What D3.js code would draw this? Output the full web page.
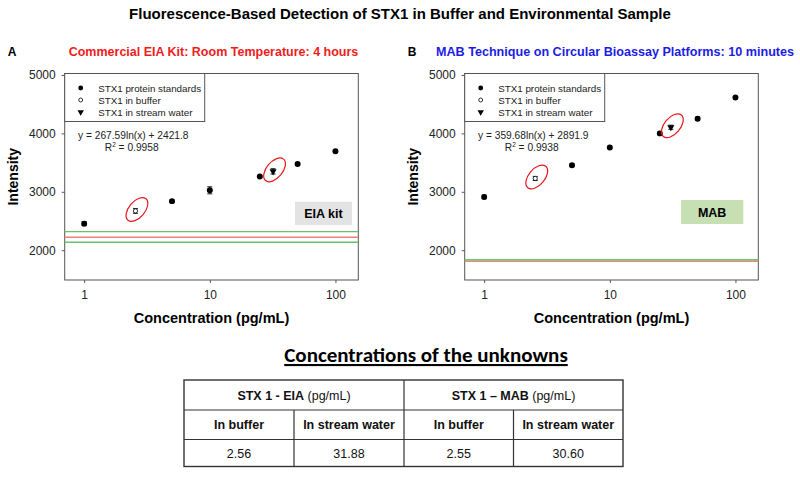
<!DOCTYPE html>
<html>
<head>
<meta charset="utf-8">
<script src="https://cdn.jsdelivr.net/npm/d3@7"></script>
<style>
  body { margin: 0; background: #fff; }
  svg text { font-family: "Liberation Sans", Arial, sans-serif; }
</style>
</head>
<body>
<svg id="chart" width="800" height="478"></svg>
<script>
// data
var concentrations = [1, 5, 10, 25, 50, 100];

var eiaStd    = [2455, 2840, 3025, 3260, 3475, 3695];
var eiaStdErr = [35, 20, 60, 15, 20, 15];
var eiaBuffer = {x: 2.56, y: 2672, err: 40};
var eiaStream = {x: 31.88, y: 3350, err: 45};
var eiaLines  = [2318, 2222, 2136];   // green, red, green
var eiaEq     = ["y = 267.59ln(x) + 2421.8", "0.9958"];

var mabStd    = [2912, 3455, 3758, 4000, 4252, 4615];
var mabStdErr = [30, 25, 20, 20, 25, 15];
var mabBuffer = {x: 2.55, y: 3228, err: 35};
var mabStream = {x: 30.60, y: 4105, err: 35};
var mabLines  = [1833, 1810, 1833];
var mabEq     = ["y = 359.68ln(x) + 2891.9", "0.9938"];

var yTicks = [2000, 3000, 4000, 5000];
var xTicks = [1, 10, 100];
var legendLabels = ["STX1 protein standards", "STX1 in buffer", "STX1 in stream water"];

var tableHead = [["STX 1 - EIA", " (pg/mL)"], ["STX 1 \u2013 MAB", " (pg/mL)"]];
var tableSub  = ["In buffer", "In stream water", "In buffer", "In stream water"];
var tableVals = ["2.56", "31.88", "2.55", "30.60"];

var svg = d3.select("#chart");

svg.append("text")
  .attr("x", 400).attr("y", 19)
  .attr("text-anchor", "middle")
  .style("font-weight", "bold").style("font-size", "15px")
  .text("Fluorescence-Based Detection of STX1 in Buffer and Environmental Sample");

function drawPanel(cfg){
  var g = svg.append("g").attr("transform", "translate(" + cfg.left + ",0)");
  var w = 293.6, top = 73.5, bottom = 280;

  var x = d3.scaleLog().domain([0.7, 152]).range([0, w]);
  var y = d3.scaleLinear().domain([1490, 5025]).range([bottom, top]);

  // letter + subtitle
  g.append("text").attr("x", cfg.letterX).attr("y", 56)
    .style("font-weight", "bold").style("font-size", "12px").text(cfg.letter);
  g.append("text").attr("x", cfg.titleX).attr("y", 56)
    .attr("text-anchor", "middle")
    .style("font-weight", "bold").style("font-size", cfg.titleSize)
    .style("fill", cfg.titleColor).text(cfg.title);

  var plot = g.append("g");

  plot.append("rect")
    .attr("x", 0).attr("y", top).attr("width", w).attr("height", bottom - top)
    .attr("fill", "none").attr("stroke", "#555").attr("stroke-width", 1);

  // axes
  var yAxis = plot.append("g")
    .call(d3.axisLeft(y).tickValues(yTicks).tickSize(3).tickPadding(6).tickFormat(d3.format("d")));
  yAxis.select(".domain").remove();
  yAxis.selectAll("text").style("font-size", "12px").style("fill", "#222");
  yAxis.selectAll("line").attr("stroke", "#555");

  var xAxis = plot.append("g").attr("transform", "translate(0," + bottom + ")")
    .call(d3.axisBottom(x).tickValues(xTicks).tickSize(3).tickPadding(7).tickFormat(d3.format("d")));
  xAxis.select(".domain").remove();
  xAxis.selectAll("text").style("font-size", "12px").style("fill", "#222");
  xAxis.selectAll("line").attr("stroke", "#555");

  g.append("text")
    .attr("transform", "translate(" + (-47) + "," + ((top + bottom) / 2) + ") rotate(-90)")
    .attr("text-anchor", "middle")
    .style("font-weight", "bold").style("font-size", "14px")
    .text("Intensity");
  g.append("text")
    .attr("x", w / 2).attr("y", 323)
    .attr("text-anchor", "middle")
    .style("font-weight", "bold").style("font-size", "14.5px")
    .text("Concentration (pg/mL)");

  // threshold lines
  plot.selectAll(".thr").data(cfg.lines).enter().append("line")
    .attr("x1", 0).attr("x2", w)
    .attr("y1", function(d){ return y(d); }).attr("y2", function(d){ return y(d); })
    .attr("stroke", function(d, i){ return i == 1 ? "#f08080" : "#6cc06c"; })
    .attr("stroke-width", 1.3);

  // label box
  plot.append("rect")
    .attr("x", cfg.box.x).attr("y", cfg.box.y).attr("width", cfg.box.w).attr("height", cfg.box.h)
    .attr("fill", cfg.box.fill);
  plot.append("text")
    .attr("x", cfg.box.x + cfg.box.w / 2).attr("y", cfg.box.y + cfg.box.h / 2 + 4.5)
    .attr("text-anchor", "middle")
    .style("font-weight", "bold").style("font-size", "12.5px")
    .text(cfg.box.label);

  // legend
  plot.append("rect")
    .attr("x", 0).attr("y", top).attr("width", 140).attr("height", 48)
    .attr("fill", "#fff").attr("stroke", "#555");
  var leg = plot.selectAll(".leg").data(legendLabels).enter().append("g")
    .attr("transform", function(d, i){ return "translate(16," + (88 + i * 12) + ")"; });
  leg.append("path")
    .attr("d", function(d, i){
      return i == 2 ? d3.symbol().type(d3.symbolTriangle).size(18)() : d3.symbol().type(d3.symbolCircle).size(i == 0 ? 18 : 12)();
    })
    .attr("transform", function(d, i){ return i == 2 ? "rotate(180)" : null; })
    .attr("fill", function(d, i){ return i == 1 ? "#fff" : "#000"; })
    .attr("stroke", "#000").attr("stroke-width", function(d, i){ return i == 1 ? 0.8 : 0; });
  leg.append("text")
    .attr("x", 17.5).attr("y", 3.5)
    .style("font-size", "9.8px").style("fill", "#222")
    .text(function(d){ return d; });

  // equation
  plot.append("text").attr("x", 68.6).attr("y", 138.5)
    .attr("text-anchor", "middle").style("font-size", "10.2px").style("fill", "#222")
    .text(cfg.eq[0]);
  var r2 = plot.append("text").attr("x", 67).attr("y", 150.5)
    .attr("text-anchor", "middle").style("font-size", "10.2px").style("fill", "#222");
  r2.append("tspan").text("R");
  r2.append("tspan").attr("dy", -4).style("font-size", "6.5px").text("2");
  r2.append("tspan").attr("dy", 4).text(" = " + cfg.eq[1]);

  // error bars
  var pts = concentrations.map(function(c, i){ return {x: c, y: cfg.std[i], err: cfg.stdErr[i], kind: 0}; });
  pts.push({x: cfg.buffer.x, y: cfg.buffer.y, err: cfg.buffer.err, kind: 1});
  pts.push({x: cfg.stream.x, y: cfg.stream.y, err: cfg.stream.err, kind: 2});

  var eb = plot.selectAll(".eb").data(pts).enter().append("g")
    .attr("transform", function(d){ return "translate(" + x(d.x) + ",0)"; })
    .attr("stroke", "#000").attr("stroke-width", 0.9);
  eb.append("line").attr("y1", function(d){ return y(d.y - d.err); }).attr("y2", function(d){ return y(d.y + d.err); });
  eb.append("line").attr("x1", -2.5).attr("x2", 2.5)
    .attr("y1", function(d){ return y(d.y - d.err); }).attr("y2", function(d){ return y(d.y - d.err); });
  eb.append("line").attr("x1", -2.5).attr("x2", 2.5)
    .attr("y1", function(d){ return y(d.y + d.err); }).attr("y2", function(d){ return y(d.y + d.err); });

  plot.selectAll(".pt").data(pts).enter().append("path")
    .attr("transform", function(d){
      return "translate(" + x(d.x) + "," + y(d.y) + ")" + (d.kind == 2 ? " rotate(180)" : "");
    })
    .attr("d", function(d){
      return d.kind == 2 ? d3.symbol().type(d3.symbolTriangle).size(22)() : d3.symbol().type(d3.symbolCircle).size(d.kind == 0 ? 28 : 14)();
    })
    .attr("fill", function(d){ return d.kind == 1 ? "#fff" : "#000"; })
    .attr("stroke", "#000").attr("stroke-width", function(d){ return d.kind == 1 ? 0.8 : 0; });

  // red rings around the unknowns
  [cfg.buffer, cfg.stream].forEach(function(p){
    plot.append("ellipse")
      .attr("transform", "translate(" + (x(p.x) + 1.5) + "," + (y(p.y) - 1.5) + ") rotate(-50)")
      .attr("rx", 14).attr("ry", 8)
      .attr("fill", "none").attr("stroke", "#e8161c").attr("stroke-width", 1.2);
  });
}

drawPanel({
  left: 64.7, letter: "A", letterX: -57, title: "Commercial EIA Kit: Room Temperature: 4 hours",
  titleX: 148.8, titleSize: "12.5px", titleColor: "#f01c1c",
  std: eiaStd, stdErr: eiaStdErr, buffer: eiaBuffer, stream: eiaStream, lines: eiaLines, eq: eiaEq,
  box: {x: 230.3, y: 201.7, w: 57, h: 23.3, fill: "#e3e3e3", label: "EIA kit"}
});

drawPanel({
  left: 464.7, letter: "B", letterX: -57, title: "MAB Technique on Circular Bioassay Platforms: 10 minutes",
  titleX: 150.3, titleSize: "12.6px", titleColor: "#1c1ce6",
  std: mabStd, stdErr: mabStdErr, buffer: mabBuffer, stream: mabStream, lines: mabLines, eq: mabEq,
  box: {x: 216.3, y: 200, w: 62.3, h: 24, fill: "#c6e0b4", label: "MAB"}
});

// table of unknowns
svg.append("text")
  .attr("x", 426).attr("y", 362)
  .attr("text-anchor", "middle")
  .style("font-family", "Carlito, Lato, 'Open Sans', sans-serif")
  .style("font-weight", "bold").style("font-size", "21px")
  .style("text-decoration", "underline")
  .text("Concentrations of the unknowns");

var colEdges = [184, 294, 404, 513.5, 623];
var rowEdges = [380, 410, 439.5, 466.5];

var tbl = svg.append("g");
tbl.append("rect")
  .attr("x", colEdges[0]).attr("y", rowEdges[0])
  .attr("width", colEdges[4] - colEdges[0]).attr("height", rowEdges[3] - rowEdges[0])
  .attr("fill", "none").attr("stroke", "#333").attr("stroke-width", 1.4);
[1, 2].forEach(function(r){
  tbl.append("line").attr("x1", colEdges[0]).attr("x2", colEdges[4])
    .attr("y1", rowEdges[r]).attr("y2", rowEdges[r])
    .attr("stroke", "#333").attr("stroke-width", 1.2);
});
tbl.append("line").attr("x1", colEdges[2]).attr("x2", colEdges[2])
  .attr("y1", rowEdges[0]).attr("y2", rowEdges[3]).attr("stroke", "#333").attr("stroke-width", 1.2);
[1, 3].forEach(function(c){
  tbl.append("line").attr("x1", colEdges[c]).attr("x2", colEdges[c])
    .attr("y1", rowEdges[1]).attr("y2", rowEdges[3]).attr("stroke", "#333").attr("stroke-width", 1.2);
});

tableHead.forEach(function(h, i){
  var t = tbl.append("text")
    .attr("x", (colEdges[i * 2] + colEdges[i * 2 + 2]) / 2).attr("y", (rowEdges[0] + rowEdges[1]) / 2 + 4.5)
    .attr("text-anchor", "middle").style("font-size", "12.5px").style("fill", "#111");
  t.append("tspan").style("font-weight", "bold").text(h[0]);
  t.append("tspan").text(h[1]);
});
tableSub.forEach(function(s, i){
  tbl.append("text")
    .attr("x", (colEdges[i] + colEdges[i + 1]) / 2).attr("y", (rowEdges[1] + rowEdges[2]) / 2 + 4.5)
    .attr("text-anchor", "middle").style("font-size", "12.5px").style("font-weight", "bold").style("fill", "#111")
    .text(s);
});
tableVals.forEach(function(s, i){
  tbl.append("text")
    .attr("x", (colEdges[i] + colEdges[i + 1]) / 2).attr("y", (rowEdges[2] + rowEdges[3]) / 2 + 4.5)
    .attr("text-anchor", "middle").style("font-size", "12.5px").style("fill", "#111")
    .text(s);
});
</script>
</body>
</html>
